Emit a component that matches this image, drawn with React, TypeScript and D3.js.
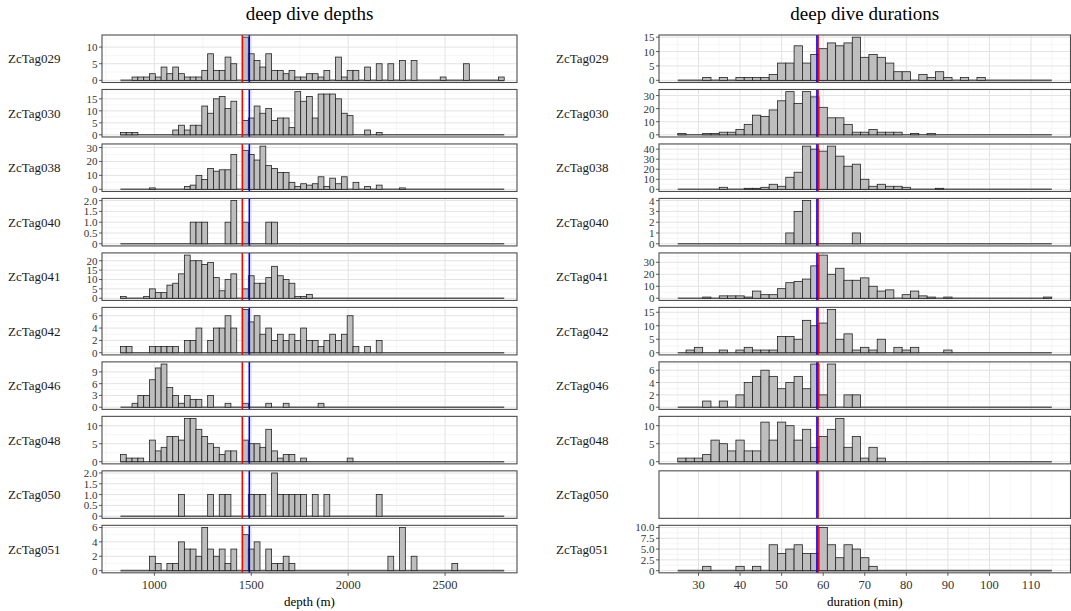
import React from "react";
import * as d3 from "d3";

// ---------- data ----------
const tags = ["ZcTag029", "ZcTag030", "ZcTag038", "ZcTag040", "ZcTag041", "ZcTag042", "ZcTag046", "ZcTag048", "ZcTag050", "ZcTag051"];

// depth histograms: bins of 30 m starting at 825 m (66 bins)
const depthBinStart = 825;
const depthBinWidth = 30;
const depth029 = [0,0,1,1,1,2,1,4,2,4,2,1,1,1,3,8,3,3,7,5,0,13,8,6,4,8,3,3,2,3,1,1,2,2,1,3,0,7,1,3,3,0,4,0,5,0,5,0,6,0,6,0,0,0,0,1,0,0,0,5,0,0,0,0,0,1];
const depth030 = [1,1,1,0,0,0,0,0,0,2,4,2,4,4,12,9,15,16,11,14,0,6,7,12,9,11,6,7,7,3,18,14,16,7,17,17,17,15,9,8,0,0,2,0,1,0,0,0,0,0,0,0,0,0,0,0,0,0,0,0,0,0,0,0,0,0];
const depth038 = [0,0,0,0,0,1,0,0,0,0,0,2,3,10,7,15,13,14,14,25,0,28,25,21,31,17,15,12,12,5,2,4,3,4,9,2,8,4,9,0,5,0,2,0,3,0,0,0,1,0,0,0,0,0,0,0,0,0,0,0,0,0,0,0,0,0];
const depth040 = [0,0,0,0,0,0,0,0,0,0,0,0,1,1,1,0,0,0,1,2,0,1,0,0,0,1,1,0,0,0,0,0,0,0,0,0,0,0,0,0,0,0,0,0,0,0,0,0,0,0,0,0,0,0,0,0,0,0,0,0,0,0,0,0,0,0];
const depth041 = [1,0,0,0,1,5,3,3,7,8,13,23,20,20,18,19,11,4,10,13,0,5,12,8,8,11,17,12,10,8,1,1,2,0,0,0,0,0,0,0,0,0,0,0,0,0,0,0,0,0,0,0,0,0,0,0,0,0,0,0,0,0,0,0,0,0];
const depth042 = [1,1,0,0,0,1,1,1,1,1,0,2,2,4,0,2,4,4,6,4,0,7,5,6,3,4,2,3,2,3,2,4,2,2,1,2,3,2,3,6,1,0,1,0,2,0,0,0,0,0,0,0,0,0,0,0,0,0,0,0,0,0,0,0,0,0];
const depth046 = [0,0,1,3,3,7,10,11,5,3,1,3,2,2,0,3,0,0,1,0,0,1,0,0,0,1,0,0,1,0,0,0,0,0,1,0,0,0,0,0,0,0,0,0,0,0,0,0,0,0,0,0,0,0,0,0,0,0,0,0,0,0,0,0,0,0];
const depth048 = [2,1,1,1,0,6,3,4,7,7,6,12,12,9,7,5,4,2,3,3,0,6,5,5,4,9,3,1,2,2,0,1,0,0,0,0,0,0,0,1,0,0,0,0,0,0,0,0,0,0,0,0,0,0,0,0,0,0,0,0,0,0,0,0,0,0];
const depth050 = [0,0,0,0,0,0,0,0,0,0,1,0,0,0,0,1,0,1,1,0,0,0,1,1,1,0,2,1,1,1,1,1,0,1,0,1,0,0,0,0,0,0,0,0,1,0,0,0,0,0,0,0,0,0,0,0,0,0,0,0,0,0,0,0,0,0];
const depth051 = [0,0,0,0,0,2,1,0,1,1,4,3,3,2,6,3,2,3,1,3,0,5,3,4,0,3,1,1,2,1,0,0,0,0,0,0,0,0,0,0,0,0,0,0,0,0,2,0,6,0,2,0,0,0,0,0,0,1,0,0,0,0,0,0,0,0];
const depthCounts = [depth029, depth030, depth038, depth040, depth041, depth042, depth046, depth048, depth050, depth051];
const depthYTicks = [[0,5,10],[0,5,10,15],[0,10,20,30],[0,0.5,1,1.5,2],[0,5,10,15,20],[0,2,4,6],[0,3,6,9],[0,5,10],[0,0.5,1,1.5,2],[0,2,4,6]];
const depthXTicks = [1000, 1500, 2000, 2500];
const depthXMinor = [750, 1250, 1750, 2250, 2750];
const depthXDomain = [730, 2871];
const depthMedian = 1454;
const depthMean = 1490;

// duration histograms: bins of 2 min starting at 25 min (45 bins)
const durBinStart = 25;
const durBinWidth = 2;
const dur029 = [0,0,0,1,0,1,0,1,1,1,1,2,6,6,12,6,9,11,13,12,13,15,8,9,8,6,3,3,0,2,1,3,1,0,1,0,1,0,0,0,0,0,0,0,0];
const dur030 = [1,0,0,1,1,2,2,4,8,15,14,19,26,33,24,33,29,21,13,13,8,2,2,4,2,2,2,0,1,0,1,0,0,0,0,0,0,0,0,0,0,0,0,0,0];
const dur038 = [0,0,0,0,0,2,0,0,1,1,2,5,3,12,17,43,40,38,43,33,23,25,10,3,5,3,3,2,0,0,0,1,0,0,0,0,0,0,0,0,0,0,0,0,0];
const dur040 = [0,0,0,0,0,0,0,0,0,0,0,0,0,1,3,4,0,0,0,0,0,1,0,0,0,0,0,0,0,0,0,0,0,0,0,0,0,0,0,0,0,0,0,0,0];
const dur041 = [0,0,0,1,0,2,2,2,1,6,3,3,8,13,14,16,27,36,20,25,15,15,17,10,6,7,0,3,6,2,1,0,1,0,0,0,0,0,0,0,0,0,0,0,1];
const dur042 = [0,1,2,0,0,1,0,1,2,1,1,1,6,6,5,12,10,11,16,5,7,1,2,1,5,0,2,1,2,0,0,0,1,0,0,0,0,0,0,0,0,0,0,0,0];
const dur046 = [0,0,0,1,0,1,0,2,4,5,6,5,3,4,5,3,7,2,7,0,2,2,0,0,0,0,0,0,0,0,0,0,0,0,0,0,0,0,0,0,0,0,0,0,0];
const dur048 = [1,1,1,2,6,5,3,6,3,3,11,6,11,10,6,9,4,7,9,12,4,7,1,4,1,0,0,0,0,0,0,0,0,0,0,0,0,0,0,0,0,0,0,0,0];
const dur050: number[] = [];
const dur051 = [0,0,0,1,0,0,0,1,0,1,0,6,4,5,6,4,4,10,6,3,6,5,3,1,0,0,0,0,0,0,0,0,0,0,0,0,0,0,0,0,0,0,0,0,0];
const durCounts = [dur029, dur030, dur038, dur040, dur041, dur042, dur046, dur048, dur050, dur051];
const durYTicks = [[0,5,10,15],[0,10,20,30],[0,10,20,30,40],[0,1,2,3,4],[0,10,20,30],[0,5,10,15],[0,2,4,6],[0,5,10],[],[0,2.5,5,7.5,10]];
const durXTicks = [30, 40, 50, 60, 70, 80, 90, 100, 110];
const durXMinor = [25, 35, 45, 55, 65, 75, 85, 95, 105, 115];
const durXDomain = [20.5, 119.5];
const durMedian = 58.8;
const durMean = 58.5;

// ---------- layout ----------
const W = 1071;
const H = 611;
const FONT = "Liberation Serif, Times New Roman, serif";
const panelTop0 = 35;
const panelPitch = 54.48;
const panelH = 47.5;
const colDefs = [
  { x0: 102, x1: 517, tagX: 8, title: "deep dive depths", axisTitle: "depth (m)", xDomain: depthXDomain,
    counts: depthCounts, yTicks: depthYTicks, binStart: depthBinStart, binWidth: depthBinWidth,
    xTicks: depthXTicks, xMinor: depthXMinor, median: depthMedian, mean: depthMean, nBins: 66, left: true },
  { x0: 659, x1: 1070.5, tagX: 556, title: "deep dive durations", axisTitle: "duration (min)", xDomain: durXDomain,
    counts: durCounts, yTicks: durYTicks, binStart: durBinStart, binWidth: durBinWidth,
    xTicks: durXTicks, xMinor: durXMinor, median: durMedian, mean: durMean, nBins: 45, left: false },
];

function fmtTick(v: number, ticks: number[]) {
  if (v === 0) return "0";
  const dec = ticks.some((t) => !Number.isInteger(t));
  return dec ? v.toFixed(1) : String(v);
}

function Column({ def }: { def: any }) {
  const lo = def.binStart;
  const hi = def.binStart + def.binWidth * def.nBins;
  const x = d3.scaleLinear().domain(def.xDomain).range([def.x0, def.x1]);
  const cx = (def.x0 + def.x1) / 2;
  const lastBottom = panelTop0 + panelPitch * (tags.length - 1) + panelH;
  return (
    <g>
      <text x={cx} y={19.5} textAnchor="middle" fontFamily={FONT} fontSize={19} fill="#000">{def.title}</text>
      {tags.map((tag, i) => {
        const top = panelTop0 + panelPitch * i;
        const bottom = top + panelH;
        const counts: number[] = def.counts[i];
        const ticks: number[] = def.yTicks[i];
        const M = counts.length ? d3.max(counts) || 1 : 1;
        const y = d3.scaleLinear().domain([-0.05 * M, 1.05 * M]).range([bottom, top]);
        const step = ticks.length > 1 ? ticks[1] - ticks[0] : 0;
        const minor: number[] = [];
        if (step) {
          for (let j = -1; j <= ticks.length; j++) {
            const v = ticks[0] + step * (j + 0.5);
            if (v > -0.05 * M && v < 1.05 * M) minor.push(v);
          }
        }
        return (
          <g key={tag}>
            <text x={def.tagX} y={(top + bottom) / 2} dominantBaseline="central" fontFamily={FONT} fontSize={13} fill="#1a1a1a">{tag}</text>
            <rect x={def.x0} y={top} width={def.x1 - def.x0} height={panelH} fill="#fff" />
            {counts.length > 0 && minor.map((v) => (
              <line key={"ym" + v} x1={def.x0} x2={def.x1} y1={y(v)} y2={y(v)} stroke="#f0f0f0" strokeWidth={0.6} />
            ))}
            {def.xMinor.map((v: number) => (
              <line key={"xm" + v} x1={x(v)} x2={x(v)} y1={top} y2={bottom} stroke="#f0f0f0" strokeWidth={0.6} />
            ))}
            {counts.length > 0 && ticks.map((v) => (
              <line key={"yM" + v} x1={def.x0} x2={def.x1} y1={y(v)} y2={y(v)} stroke="#e3e3e3" strokeWidth={1} />
            ))}
            {def.xTicks.map((v: number) => (
              <line key={"xM" + v} x1={x(v)} x2={x(v)} y1={top} y2={bottom} stroke="#e3e3e3" strokeWidth={1} />
            ))}
            {counts.length > 0 && (
              <line x1={x(lo)} x2={x(hi)} y1={y(0)} y2={y(0)} stroke="#5a5a5a" strokeWidth={1.6} />
            )}
            {counts.map((c, k) =>
              c > 0 ? (
                <rect key={k} x={x(lo + k * def.binWidth)} y={y(c)}
                  width={x(lo + (k + 1) * def.binWidth) - x(lo + k * def.binWidth)}
                  height={y(0) - y(c)} fill="#bebebe" stroke="#222" strokeWidth={0.8} />
              ) : null
            )}
            {def.left ? (
              <g>
                <line x1={x(def.median)} x2={x(def.median)} y1={top} y2={bottom} stroke="#ff0000" strokeWidth={1.6} />
                <line x1={x(def.mean)} x2={x(def.mean)} y1={top} y2={bottom} stroke="#0000ff" strokeWidth={1.6} />
              </g>
            ) : (
              <g>
                <line x1={x(def.median)} x2={x(def.median)} y1={top} y2={bottom} stroke="#ff0000" strokeWidth={1.4} />
                <line x1={x(def.mean)} x2={x(def.mean)} y1={top} y2={bottom} stroke="#0000ff" strokeWidth={1.6} />
              </g>
            )}
            <rect x={def.x0} y={top} width={def.x1 - def.x0} height={panelH} fill="none" stroke="#4d4d4d" strokeWidth={1.1} />
            {counts.length > 0 && ticks.map((v) => (
              <g key={"yt" + v}>
                <line x1={def.x0 - 3} x2={def.x0} y1={y(v)} y2={y(v)} stroke="#333" strokeWidth={0.8} />
                <text x={def.x0 - 4.5} y={y(v)} textAnchor="end" dominantBaseline="central" fontFamily={FONT} fontSize={11} fill="#333">{fmtTick(v, ticks)}</text>
              </g>
            ))}
          </g>
        );
      })}
      {def.xTicks.map((v: number) => (
        <g key={"xt" + v}>
          <line x1={x(v)} x2={x(v)} y1={lastBottom} y2={lastBottom + 3} stroke="#333" strokeWidth={0.8} />
          <text x={x(v)} y={lastBottom + 12.5} textAnchor="middle" dominantBaseline="central" fontFamily={FONT} fontSize={12.5} fill="#333">{v}</text>
        </g>
      ))}
      <text x={cx} y={lastBottom + 28.5} textAnchor="middle" dominantBaseline="central" fontFamily={FONT} fontSize={13} fill="#000">{def.axisTitle}</text>
    </g>
  );
}

export default function App() {
  return (
    <svg width={W} height={H} style={{ position: "absolute", left: 0, top: 0, background: "#fff" }}>
      <rect x={0} y={0} width={W} height={H} fill="#fff" />
      {colDefs.map((def) => (
        <Column key={def.title} def={def} />
      ))}
    </svg>
  );
}
